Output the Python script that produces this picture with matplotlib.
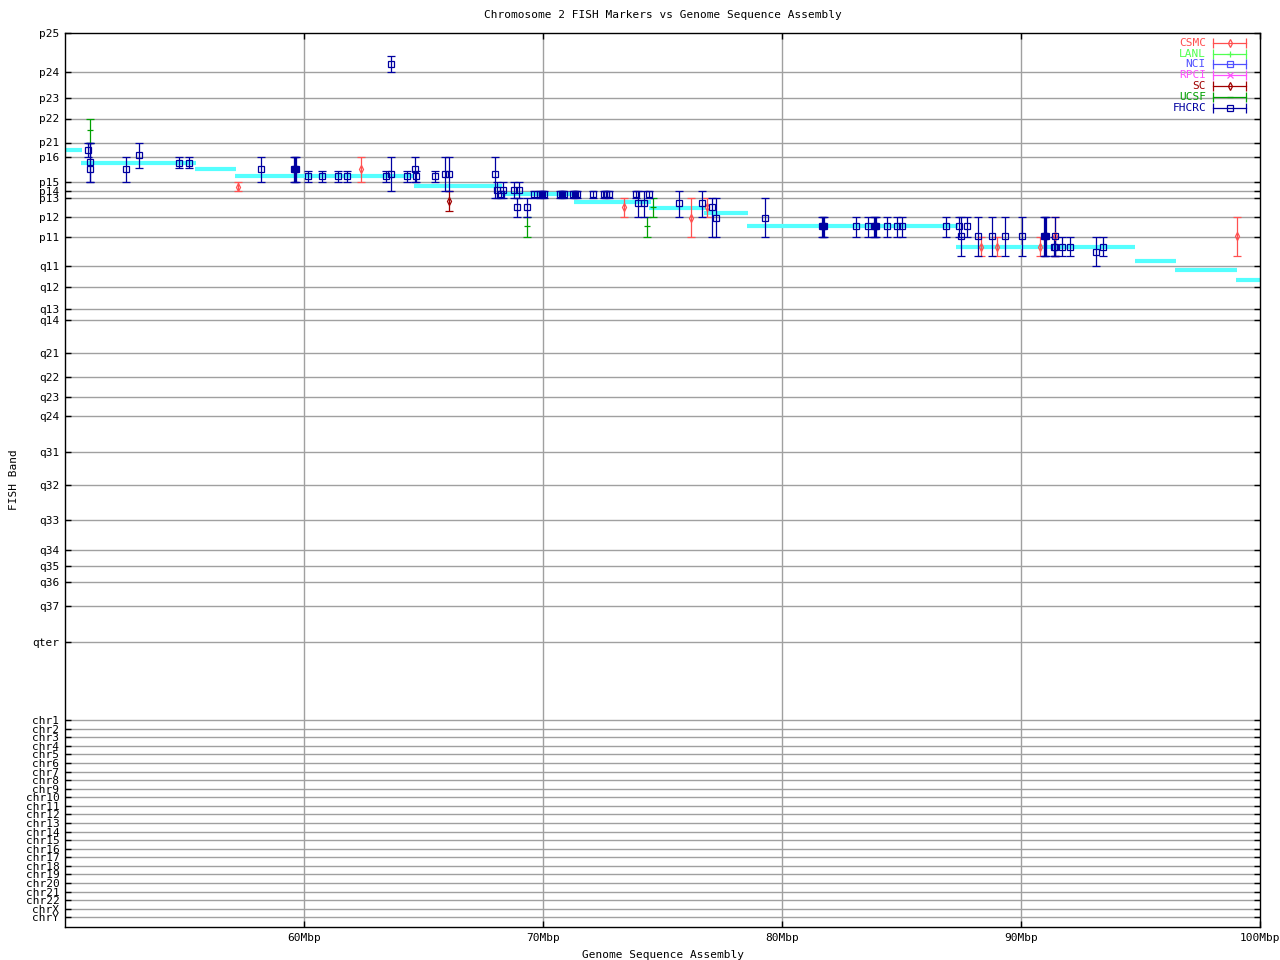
import matplotlib
matplotlib.use('Agg')
import matplotlib.pyplot as plt

plt.rcParams['font.family'] = 'DejaVu Sans Mono'
plt.rcParams['font.size'] = 8

# y scale: band position (top of chart = p25)
band_labels = ['p25', 'p24', 'p23', 'p22', 'p21', 'p16', 'p15', 'p14', 'p13', 'p12', 'p11',
               'q11', 'q12', 'q13', 'q14', 'q21', 'q22', 'q23', 'q24', 'q31', 'q32', 'q33',
               'q34', 'q35', 'q36', 'q37', 'qter']
band_pos = [33, 72.3, 98.3, 118.5, 142.5, 157.3, 182.3, 191.3, 198.3, 216.7, 237.3,
            266.3, 286.7, 309.3, 320, 353.3, 377.3, 397.3, 415.7, 451.7, 485.3, 520,
            550, 565.7, 581.7, 606, 641.7]
chr_labels = ['chr1', 'chr2', 'chr3', 'chr4', 'chr5', 'chr6', 'chr7', 'chr8', 'chr9', 'chr10',
              'chr11', 'chr12', 'chr13', 'chr14', 'chr15', 'chr16', 'chr17', 'chr18', 'chr19',
              'chr20', 'chr21', 'chr22', 'chrX', 'chrY']
chr_pos = [720, 728.6, 737.2, 745.7, 754.3, 762.9, 771.5, 780.1, 788.6, 797.2, 805.8, 814.4,
           823.0, 831.5, 840.1, 848.7, 857.3, 865.9, 874.4, 883.0, 891.6, 900.2, 908.8, 917.3]

# genome sequence assembly segments (Mbp start, end, band position)
asm_start = [50.0, 50.65, 55.45, 57.1, 64.6, 68.3, 71.3, 74.45, 76.75, 78.55, 87.3, 94.75, 96.45, 99.0]
asm_end = [50.7, 55.5, 57.15, 64.6, 68.3, 71.3, 74.5, 76.8, 78.56, 87.35, 94.77, 96.5, 99.05, 100.0]
asm_band = [150, 162.5, 169, 175.7, 185.5, 193.7, 201.7, 207.7, 212.7, 226, 247.3, 261, 270, 280]

# FHCRC markers: position (Mbp), band, band range top, band range bottom
fh_x = [50.96, 51.05, 51.05, 52.56, 53.11, 54.78, 55.20, 58.21, 59.58, 59.62, 59.66,
        60.18, 60.77, 61.44, 61.81, 63.44, 63.65, 63.65, 64.32, 64.63, 64.70, 65.49, 65.91, 66.08,
        68.00, 68.09, 68.26, 68.34, 68.77, 68.92, 69.01, 69.34,
        69.64, 69.89, 69.97, 70.05, 70.72, 70.80, 70.89, 71.26, 71.34, 71.42, 72.10, 72.56, 72.65,
        72.77, 73.90, 74.45,
        73.99, 74.24, 75.70, 76.67, 77.08, 77.25, 79.30,
        81.67, 81.71, 81.75, 83.11, 83.61, 83.85, 83.89, 83.93, 84.41, 84.81, 85.03, 86.87, 87.39, 87.75,
        87.50, 88.18, 88.80, 89.35, 90.05, 90.96, 91.00, 91.04, 91.44,
        91.38, 91.42, 91.70, 92.06, 93.44, 93.15]
fh_y = [150, 162.3, 169.3, 169.3, 155.3, 163.3, 163.3, 169.3, 169.3, 169.3, 169.3,
        176.3, 176.3, 176.3, 176.3, 176, 174.3, 64, 176, 169.3, 176, 176, 174.3, 174.3,
        174.3, 190.3, 194.3, 190.3, 190.3, 207.3, 190.3, 207.3,
        193.7, 193.7, 193.7, 193.7, 193.7, 193.7, 193.7, 193.7, 193.7, 193.7, 193.7, 193.7, 193.7,
        193.7, 193.7, 193.7,
        203.3, 203.3, 203.3, 203.3, 207.3, 218.3, 218.3,
        226, 226, 226, 226, 226, 226, 226, 226, 226, 226, 226, 226, 226, 226,
        236.3, 236.3, 236.3, 236.3, 236.3, 236.3, 236.3, 236.3, 236.3,
        247.3, 247.3, 247.3, 247.3, 247.3, 252.3]
fh_top = [142.5, 142.5, 142.5, 157.3, 142.5, 157.3, 157.3, 157.3, 157.3, 157.3, 157.3,
          171.3, 171.3, 171.3, 171.3, 171.3, 157.3, 56, 171.3, 157.3, 171.3, 171.3, 157.3, 157.3,
          157.3, 182.3, 191.3, 182.3, 182.3, 198.3, 182.3, 198.3,
          191.3, 191.3, 191.3, 191.3, 191.3, 191.3, 191.3, 191.3, 191.3, 191.3, 191.3, 191.3, 191.3,
          191.3, 191.3, 191.3,
          191.3, 191.3, 191.3, 191.3, 198.3, 198.3, 198.3,
          216.7, 216.7, 216.7, 216.7, 216.7, 216.7, 216.7, 216.7, 216.7, 216.7, 216.7, 216.7, 216.7, 216.7,
          216.7, 216.7, 216.7, 216.7, 216.7, 216.7, 216.7, 216.7, 216.7,
          237.3, 237.3, 237.3, 237.3, 237.3, 237.3]
fh_bot = [157.3, 182.3, 182.3, 182.3, 168.3, 168.3, 168.3, 182.3, 182.3, 182.3, 182.3,
          182.3, 182.3, 182.3, 182.3, 182.3, 191.3, 72.3, 182.3, 182.3, 182.3, 182.3, 191.3, 191.3,
          198.3, 198.3, 198.3, 198.3, 198.3, 216.7, 198.3, 216.7,
          198.3, 198.3, 198.3, 198.3, 198.3, 198.3, 198.3, 198.3, 198.3, 198.3, 198.3, 198.3, 198.3,
          198.3, 198.3, 198.3,
          216.7, 216.7, 216.7, 216.7, 237.3, 237.3, 237.3,
          237.3, 237.3, 237.3, 237.3, 237.3, 237.3, 237.3, 237.3, 237.3, 237.3, 237.3, 237.3, 237.3, 237.3,
          256.3, 256.3, 256.3, 256.3, 256.3, 256.3, 256.3, 256.3, 256.3,
          256.3, 256.3, 256.3, 256.3, 256.3, 266.3]

# CSMC markers
cs_x = [57.23, 62.40, 73.40, 76.20, 76.87, 88.31, 88.98, 90.80, 91.43, 99.05]
cs_y = [186.5, 169.3, 207.3, 218.3, 207.3, 247, 247, 247, 236.3, 236.3]
cs_top = [182.3, 157.3, 198.3, 198.3, 198.3, 237.3, 237.3, 237.3, 216.7, 216.7]
cs_bot = [191.3, 182.3, 216.7, 237.3, 216.7, 256.3, 256.3, 256.3, 256.3, 256.3]

# SC markers
sc_x = [66.08]
sc_y = [201.3]
sc_top = [191.3]
sc_bot = [211.3]

# UCSF markers
uc_x = [51.06, 69.34, 74.37, 74.62]
uc_y = [130.3, 226.3, 226.3, 207.3]
uc_top = [118.5, 216.7, 216.7, 198.3]
uc_bot = [142.5, 237.3, 237.3, 216.7]

labs = ['CSMC', 'LANL', 'NCI', 'RPCI', 'SC', 'UCSF', 'FHCRC']
lab_colors = ['#ff5050', '#50ff50', '#5050ff', '#ff50ff', '#a00000', '#00a000', '#0000a0']
lab_markers = ['d', '+', 's', 'x', 'd', '_', 's']

fig = plt.figure(figsize=(12.8, 9.6), dpi=100)
ax = fig.add_axes([65 / 1280, 33 / 960, 1195 / 1280, 894 / 960])

ax.set_xlim(50, 100)
ax.set_ylim(927, 33)

for y in band_pos[1:] + chr_pos:
    ax.axhline(y, color='#a0a0a0', lw=1, zorder=1)
for x in [60, 70, 80, 90]:
    ax.axvline(x, color='#a0a0a0', lw=1, zorder=1)

ax.hlines(asm_band, asm_start, asm_end, color='#55ffff', lw=3, zorder=2)


def draw(xs, ys, tops, bots, color, marker, mfc='none'):
    ax.errorbar(xs, ys, yerr=[[y - t for y, t in zip(ys, tops)], [b - y for y, b in zip(ys, bots)]],
                fmt=marker, color=color, ecolor=color, mfc=mfc, mec=color, ms=4, mew=0.9,
                elinewidth=0.9, capsize=3.2, capthick=0.9, zorder=3)


draw(cs_x, cs_y, cs_top, cs_bot, '#ff5050', 'd')
draw(sc_x, sc_y, sc_top, sc_bot, '#a00000', 'd')
draw(uc_x, uc_y, uc_top, uc_bot, '#00a000', '_')
draw(fh_x, fh_y, fh_top, fh_bot, '#0000a0', 's')

ax.set_xticks([60, 70, 80, 90, 100])
ax.set_xticklabels(['60Mbp', '70Mbp', '80Mbp', '90Mbp', '100Mbp'])
ax.set_yticks(band_pos + chr_pos)
ax.set_yticklabels(band_labels + chr_labels)
ax.tick_params(direction='in', length=4, width=1, top=True, right=True, pad=4)
for s in ax.spines.values():
    s.set_linewidth(1)

ax.set_xlabel('Genome Sequence Assembly', labelpad=5)
ax.set_ylabel('FISH Band')
ax.yaxis.set_label_coords(-46 / 1195, 0.5)
fig.text(0.518, 1 - 15 / 960, 'Chromosome 2 FISH Markers vs Genome Sequence Assembly',
         ha='center', va='center')

# key, top right
key_y = [43, 53.8, 64.5, 75.3, 86, 96.8, 107.6]
for lab, c, m, ky in zip(labs, lab_colors, lab_markers, key_y):
    yf = (927 - ky) / 894
    ax.text((1206 - 65) / 1195, yf, lab, color=c, ha='right', va='center', transform=ax.transAxes)
    x0, x1 = (1213 - 65) / 1195, (1246 - 65) / 1195
    ax.plot([x0, x1], [yf, yf], color=c, lw=0.9, transform=ax.transAxes, clip_on=False)
    ax.plot([x0, x1], [yf, yf], color=c, lw=0, marker='|', ms=7, mew=0.9,
            transform=ax.transAxes, clip_on=False)
    ax.plot([(x0 + x1) / 2], [yf], color=c, marker=m, mfc='none', ms=4, mew=0.9,
            transform=ax.transAxes, clip_on=False)

fig.savefig('out.png', dpi=100)
